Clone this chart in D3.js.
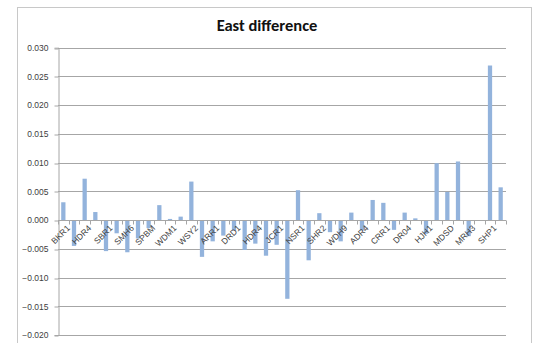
<!DOCTYPE html>
<html>
<head>
<meta charset="utf-8">
<script src="https://cdn.jsdelivr.net/npm/d3@7"></script>
<style>
  html, body { margin: 0; padding: 0; background: #fff; }
  svg { display: block; }
</style>
</head>
<body>
<svg id="chart" width="545" height="343"></svg>
<script>
// Station labels: only every other station is labelled on the axis
const stationLabels = [
  "BKR1", "", "HDR4", "", "SBR1", "", "SMH6", "", "SPBM", "",
  "WDM1", "", "WSY2", "", "ARR1", "", "DRD1", "", "HDR4", "",
  "JCR1", "", "NSR1", "", "SHR2", "", "WDH9", "", "ADR4", "",
  "CRR1", "", "DR04", "", "HJH1", "", "MDSD", "", "MRH3", "",
  "SHP1", ""
];

// East component difference per station
const eastDiff = [
  0.0031, -0.0045, 0.0072, 0.0014, -0.0054, -0.0023, -0.0056, -0.0032, -0.0014, 0.0026,
  0.0002, 0.0006, 0.0067, -0.0064, -0.0037, -0.0027, -0.0018, -0.0052, -0.0041, -0.0062,
  -0.0043, -0.0137, 0.0052, -0.0070, 0.0012, -0.0021, -0.0037, 0.0013, -0.0018, 0.0035,
  0.0030, -0.0017, 0.0013, 0.0003, -0.0024, 0.0099, 0.0049, 0.0102, -0.0028, 0,
  0.0269, 0.0057
];

const yTicks = [-0.020, -0.015, -0.010, -0.005, 0.000, 0.005, 0.010, 0.015, 0.020, 0.025, 0.030];

const svg = d3.select("#chart");
const font = "'Liberation Sans', Arial, sans-serif";

// chart frame
svg.append("rect")
  .attr("x", 17.5).attr("y", 7.5)
  .attr("width", 514).attr("height", 345)
  .attr("fill", "#fff")
  .attr("stroke", "#c8c8c8");

svg.append("text")
  .attr("x", 267).attr("y", 31)
  .attr("text-anchor", "middle")
  .attr("font-family", "Carlito, 'Open Sans', sans-serif")
  .attr("font-weight", "bold")
  .attr("font-size", 16.5)
  .attr("fill", "#111")
  .text("East difference");

const plot = { left: 58, right: 506, top: 47.7, bottom: 335 };

const xStep = d3.scaleBand()
  .domain(d3.range(eastDiff.length))
  .range([plot.left, plot.right]);

const y = d3.scaleLinear()
  .domain([-0.020, 0.030])
  .range([plot.bottom, plot.top]);

// horizontal gridlines
svg.append("g")
  .selectAll("line")
  .data(yTicks)
  .join("line")
  .attr("x1", plot.left).attr("x2", plot.right)
  .attr("y1", d => Math.round(y(d)) + 0.5)
  .attr("y2", d => Math.round(y(d)) + 0.5)
  .attr("stroke", "#a6a6a6")
  .attr("stroke-width", 1);

// y axis
const yAxis = d3.axisLeft(y)
  .tickValues(yTicks)
  .tickFormat(d3.format(".3f"))
  .tickSize(4)
  .tickPadding(6);

const gy = svg.append("g")
  .attr("transform", `translate(${plot.left + 0.5},0)`)
  .call(yAxis);
gy.select(".domain").attr("stroke", "#a6a6a6");
gy.selectAll(".tick line")
  .attr("stroke", "#a6a6a6")
  .attr("transform", d => `translate(0,${Math.round(y(d)) + 0.5 - y(d)})`);
gy.selectAll(".tick text")
  .attr("font-family", font)
  .attr("font-size", 8.5)
  .attr("fill", "#404040");

// bars
const bw = xStep.bandwidth() * 0.4;
svg.append("g")
  .selectAll("rect")
  .data(eastDiff)
  .join("rect")
  .attr("x", (d, i) => xStep(i) + (xStep.bandwidth() - bw) / 2)
  .attr("width", bw)
  .attr("y", d => y(Math.max(0, d)))
  .attr("height", d => Math.abs(y(d) - y(0)))
  .attr("fill", "#93b3dc");

// category axis along zero
const zeroY = Math.round(y(0)) + 0.5;
const gx = svg.append("g").attr("transform", `translate(0,${zeroY})`);
gx.append("line")
  .attr("x1", plot.left).attr("x2", plot.right)
  .attr("stroke", "#a6a6a6");
gx.selectAll("line.tk")
  .data(d3.range(eastDiff.length + 1))
  .join("line")
  .attr("class", "tk")
  .attr("x1", i => Math.round(plot.left + i * xStep.step()) + 0.5)
  .attr("x2", i => Math.round(plot.left + i * xStep.step()) + 0.5)
  .attr("y1", 0).attr("y2", 4)
  .attr("stroke", "#a6a6a6");

gx.selectAll("text")
  .data(stationLabels.map((s, i) => ({ s, i })).filter(d => d.s !== ""))
  .join("text")
  .attr("transform", d => `translate(${xStep(d.i) + xStep.bandwidth() / 2 + 3},4) rotate(-45)`)
  .attr("text-anchor", "end")
  .attr("dy", "0.7em")
  .attr("font-family", font)
  .attr("font-size", 8.5)
  .attr("fill", "#404040")
  .text(d => d.s);
</script>
</body>
</html>
